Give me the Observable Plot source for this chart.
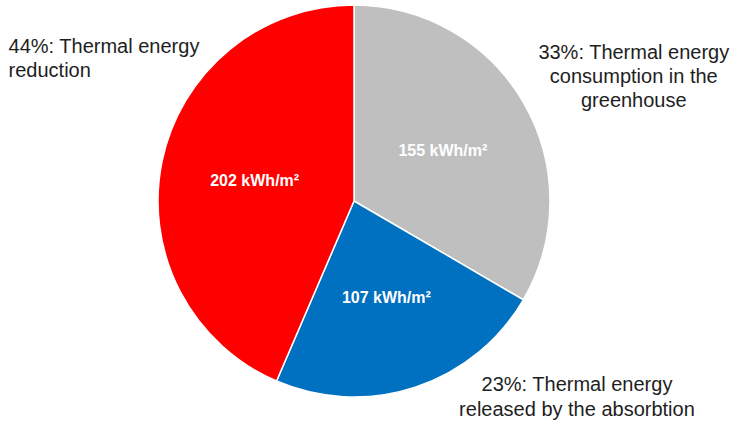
<!DOCTYPE html>
<html>
<head>
<meta charset="utf-8">
<script src="https://cdn.jsdelivr.net/npm/d3@7"></script>
<script src="https://cdn.jsdelivr.net/npm/@observablehq/plot@0.6"></script>
<style>
  html, body { margin: 0; padding: 0; background: #fff; }
</style>
</head>
<body>
<div id="chart"></div>
<script>
// Annual thermal energy balance per m² of greenhouse, clockwise from 12 o'clock
const categories = ["consumption", "released", "reduction"];
const values = [155, 107, 202];
const valueUnit = " kWh/m²";
const descriptions = [
  "Thermal energy\nconsumption in the\ngreenhouse",
  "Thermal energy\nreleased by the absorbtion",
  "Thermal energy\nreduction"
];
const colors = ["#bfbfbf", "#0070c0", "#ff0000"];

const total = d3.sum(values);
const arcs = d3.pie().sort(null).value(d => d)(values);
const mid = a => (a.startAngle + a.endAngle) / 2;

// Callout placement in pie-radius units (pie centred at 0,0 with radius 1)
const callouts = [
  {x: 1.425, y: 0.645, anchor: "middle"},
  {x: 1.135, y: -0.99, anchor: "middle"},
  {x: -1.765, y: 0.735, anchor: "start"}
];
const calloutRows = arcs.map((a, i) => ({
  ...callouts[i],
  label: `${Math.round(values[i] / total * 100)}%: ${descriptions[i]}`
}));

// Slices drawn with d3.arc, sized through Plot's x/y scales
function slices(index, {x, y}) {
  const cx = x(0), cy = y(0), r = x(1) - x(0);
  const arc = d3.arc().innerRadius(0).outerRadius(r);
  const g = d3.create("svg:g").attr("transform", `translate(${cx},${cy})`);
  g.selectAll("path")
    .data(arcs)
    .join("path")
    .attr("d", arc)
    .attr("fill", (d, i) => colors[i])
    .attr("stroke", "#ffffff")
    .attr("stroke-width", 1.5)
    .attr("stroke-linejoin", "round");
  return g.node();
}

const calloutStyle = {
  x: "x",
  y: "y",
  text: "label",
  lineAnchor: "middle",
  lineHeight: 1.22,
  fontSize: 20,
  fill: "#1e1e1e"
};

const chart = Plot.plot({
  width: 733,
  height: 421,
  margin: 0,
  x: {domain: [-354 / 196, 379 / 196], axis: null},
  y: {domain: [-220 / 196, 201 / 196], axis: null},
  style: {fontFamily: "'Liberation Sans', Arial, sans-serif", background: "#fff"},
  marks: [
    slices,
    Plot.text(arcs, {
      x: a => Math.sin(mid(a)) * 0.52,
      y: a => Math.cos(mid(a)) * 0.52,
      text: (a, i) => values[i] + valueUnit,
      fill: "#ffffff",
      fontWeight: "bold",
      fontSize: 16
    }),
    Plot.text(calloutRows.filter(d => d.anchor === "middle"), {...calloutStyle, textAnchor: "middle"}),
    Plot.text(calloutRows.filter(d => d.anchor === "start"), {...calloutStyle, textAnchor: "start"})
  ]
});

document.getElementById("chart").append(chart);
</script>
</body>
</html>
